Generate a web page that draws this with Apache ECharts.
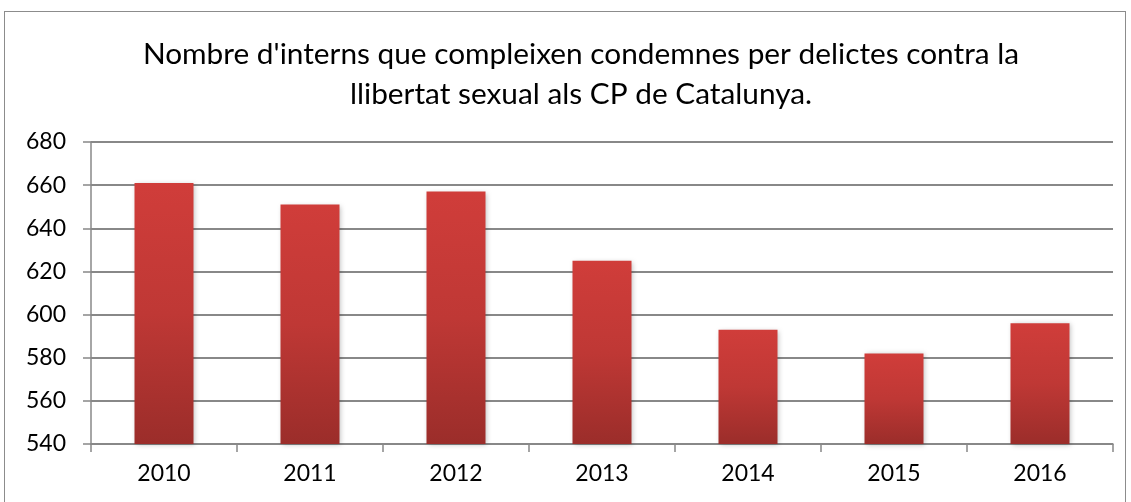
<!DOCTYPE html>
<html>
<head>
<meta charset="utf-8">
<script src="https://cdn.jsdelivr.net/npm/echarts@6/dist/echarts.min.js"></script>
<style>
  html, body { margin: 0; padding: 0; background: #fff; }
  #chart { width: 1131px; height: 502px; }
  #frame { position: absolute; left: 4px; top: 11px; width: 1122px; height: 500px; border: 1px solid #8c8c8c; box-sizing: border-box; pointer-events: none; }
</style>
</head>
<body>
<div id="chart"></div>
<div id="frame"></div>
<script>
const years = ['2010', '2011', '2012', '2013', '2014', '2015', '2016']
const interns = [661, 651, 657, 625, 593, 582, 596]
const titleText = "Nombre d'interns que compleixen condemnes per delictes contra la\nllibertat sexual als CP de Catalunya."

const chart = echarts.init(document.getElementById('chart'))
const font = 'Lato, "Open Sans", sans-serif'

chart.setOption({
    animation: false,
    title: {
        text: titleText,
        left: 576,
        top: 29,
        textAlign: 'center',
        textStyle: {
            fontFamily: font,
            fontWeight: 'normal',
            fontSize: 29.8,
            lineHeight: 40,
            color: '#000'
        }
    },
    grid: {
        left: 91,
        right: 18,
        top: 142,
        bottom: 58
    },
    xAxis: {
        type: 'category',
        data: years,
        axisLine: { lineStyle: { color: '#888', width: 1.5 } },
        axisTick: { show: true, length: 8, lineStyle: { color: '#888', width: 1.5 } },
        axisLabel: { fontFamily: font, fontSize: 23, color: '#000', margin: 18 }
    },
    yAxis: {
        type: 'value',
        min: 540,
        max: 680,
        interval: 20,
        axisLine: { show: true, lineStyle: { color: '#888', width: 1.5 } },
        axisTick: { show: true, length: 8, lineStyle: { color: '#888', width: 1.5 } },
        axisLabel: { fontFamily: font, fontSize: 23, color: '#000', margin: 25 },
        splitLine: { lineStyle: { color: '#888', width: 1.8 } }
    },
    series: [{
        type: 'bar',
        data: interns,
        barWidth: 59,
        itemStyle: {
            color: new echarts.graphic.LinearGradient(0, 0, 0, 1, [
                { offset: 0, color: '#d03d3a' },
                { offset: 0.5, color: '#bf3835' },
                { offset: 1, color: '#9b2d2a' }
            ]),
            shadowColor: 'rgba(0,0,0,0.25)',
            shadowBlur: 5,
            shadowOffsetX: 1,
            shadowOffsetY: 1
        }
    }]
})
</script>
</body>
</html>
